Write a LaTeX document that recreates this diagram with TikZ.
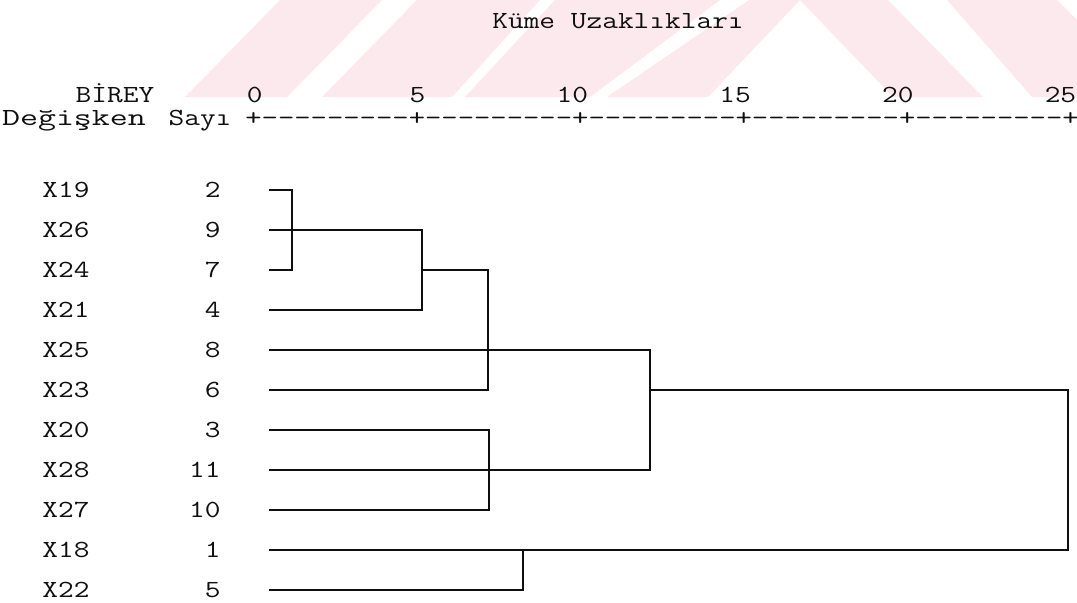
\documentclass[tikz,border=0pt]{standalone}
\usepackage{fontspec}
\usepackage{graphicx}
\usepackage{xcolor}
\definecolor{wmpink}{RGB}{252, 233, 237}
\definecolor{inkblack}{RGB}{15, 15, 15}
\usepackage{tikz}
% courier-like wide typewriter text
\newcommand{\courw}[2][1.24]{\scalebox{#1}[1]{#2}}
\tikzset{
  % --- TEXT ---
  mono/.style={
    font=\ttfamily\fontsize{14}{17}\selectfont,
    text=inkblack,
    inner sep=0pt,
    anchor=base
  },
  leaf-label/.style={mono},
  leaf-num/.style={mono, anchor=base east},
  scale-num/.style={mono, anchor=base east},
  axis-text/.style={mono, anchor=base west},
  % --- LINES ---
  dline/.style={
    draw=inkblack,
    line width=1.1pt
  },
  % --- BACKGROUND ---
  wmark/.style={
    fill=wmpink,
    draw=none
  },
}

\begin{document}
\begin{tikzpicture}[x=0.02cm, y=-0.02cm]
  \useasboundingbox (0,0) rectangle (1077,602);
  % --- watermark stripes
  \fill[wmark] (185,97) -- (287,97) -- (382,0) -- (280,0) -- cycle;
  \fill[wmark] (322,97) -- (452,97) -- (540,0) -- (417,0) -- cycle;
  \fill[wmark] (465,97) -- (590,97) -- (720,0) -- (555,0) -- cycle;
  \fill[wmark] (607,97) -- (708,97) -- (800,0) -- (749,0) -- cycle;
  \fill[wmark] (800,0) -- (888,0) -- (983,97) -- (893,97) -- cycle;
  \fill[wmark] (947,0) -- (1057,0) -- (1077,20) -- (1077,97) -- (1032,97) -- cycle;
  % --- header
  \node[mono] (title) at (618,28) {\courw{Küme Uzaklıkları}};
  \node[mono] (birey) at (115,102) {\courw{BİREY}};
  \node[mono] (degisken) at (74,125) {\courw[1.42]{Değişken}};
  \node[mono] (sayi) at (200,125) {\courw{Sayı}};
  \foreach \v [count=\i from 0] in {0,5,10,15,20,25}
    \node[scale-num] (tick\i) at (263+162.7*\i,102) {\courw{\v}};
  \node[axis-text] (axis) at (245,125) {\courw[1.29]{+---------+---------+---------+---------+---------+}};
  % --- leaves
  \foreach \lab/\num/\y in {19/2/190, 26/9/230, 24/7/270, 21/4/310, 25/8/350,
                            23/6/390, 20/3/430, 28/11/470, 27/10/510, 18/1/550, 22/5/590} {
    \node[leaf-label] (v\lab) at (66,\y+7.5) {\courw{X\lab}};
    \node[leaf-num] (n\lab) at (221,\y+7.5) {\courw{\num}};
    \coordinate (s\lab) at (269,\y);
  }
  % --- merge points
  \coordinate (j1) at (292,230);
  \coordinate (j2) at (422,270);
  \coordinate (j3) at (488,350);
  \coordinate (j4) at (650,390);
  \coordinate (j5) at (489,470);
  \coordinate (j6) at (1068,470);
  \coordinate (j7) at (523,550);
  % --- tree
  \draw[dline] (s19) -| (j1) |- (s24);
  \draw[dline] (s26) -| (j2) |- (s21);
  \draw[dline] (j2) -| (j3) |- (s23);
  \draw[dline] (s25) -| (j4) |- (s28);
  \draw[dline] (s20) -| (j5) |- (s27);
  \draw[dline] (j4) -| (j6) |- (s18);
  \draw[dline] (s22) -| (j7);
\end{tikzpicture}
\end{document}
